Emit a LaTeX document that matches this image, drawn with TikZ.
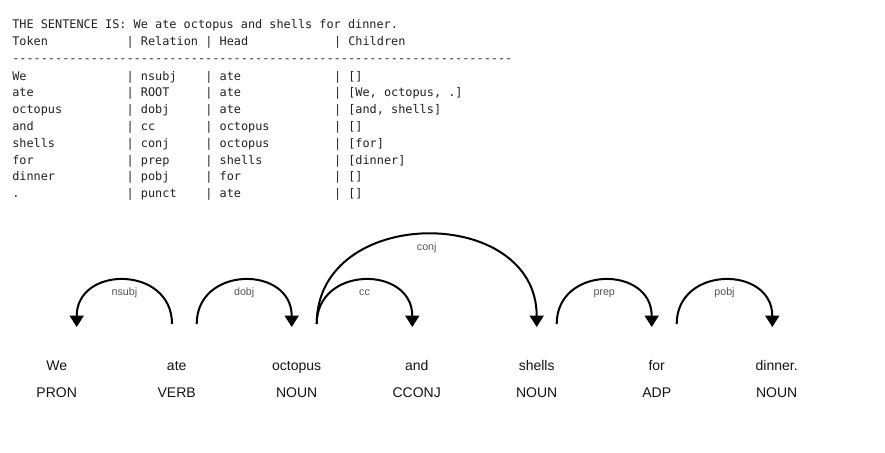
\documentclass[tikz,border=0pt]{standalone}
\usepackage{fontspec}
\setmainfont{Liberation Sans}
\setmonofont{DejaVu Sans Mono}
\usetikzlibrary{arrows.meta}
\definecolor{tabc}{RGB}{34,34,34}
\definecolor{labc}{RGB}{85,85,85}
\definecolor{wordc}{RGB}{20,20,20}
\tikzset{
  tbl/.style={font=\ttfamily\fontsize{8.9pt}{10pt}\selectfont, anchor=base west, inner sep=0pt, text=tabc},
  word/.style={font=\fontsize{10.5pt}{12pt}\selectfont, anchor=base, inner sep=0pt, text=wordc},
  arclab/.style={font=\fontsize{8pt}{9pt}\selectfont, anchor=base, inner sep=0pt, text=labc},
  deparc/.style={line width=1.5pt, -{Triangle[length=8.6pt,width=10.5pt]}}
}
\newcommand\tabrow[6]{%
  \node[tbl] (#1-tok) at (12,#2) {#3};
  \node[tbl] (#1-rel) at (126.4,#2) {| #4};
  \node[tbl] (#1-head) at (205.05,#2) {| #5};
  \node[tbl] (#1-ch) at (333.75,#2) {| #6};
}
\begin{document}
\begin{tikzpicture}[x=0.75pt,y=-0.75pt]
\useasboundingbox[fill=white] (0,0) rectangle (885,453);
% table
\node[tbl] (title) at (12,28.7) {THE SENTENCE IS: We ate octopus and shells for dinner.};
\tabrow{hdr}{46}{Token}{Relation}{Head}{Children}
\node[tbl, text height=3.5pt, text depth=0pt] (rule) at (12,63) {----------------------------------------------------------------------};
\tabrow{r1}{80}{We}{nsubj}{ate}{[]}
\tabrow{r2}{96.8}{ate}{ROOT}{ate}{[We, octopus, .]}
\tabrow{r3}{113.6}{octopus}{dobj}{ate}{[and, shells]}
\tabrow{r4}{130.4}{and}{cc}{octopus}{[]}
\tabrow{r5}{147.2}{shells}{conj}{octopus}{[for]}
\tabrow{r6}{164}{for}{prep}{shells}{[dinner]}
\tabrow{r7}{180.8}{dinner}{pobj}{for}{[]}
\tabrow{r8}{197.6}{.}{punct}{ate}{[]}
% words
\node[word] (w1) at (56.7,370) {We};
\node[word] (w2) at (176.7,370) {ate};
\node[word] (w3) at (296.7,370) {octopus};
\node[word] (w4) at (416.7,370) {and};
\node[word] (w5) at (536.7,370) {shells};
\node[word] (w6) at (656.7,370) {for};
\node[word] (w7) at (776.7,370) {dinner.};
\node[word] (p1) at (56.7,397) {PRON};
\node[word] (p2) at (176.7,397) {VERB};
\node[word] (p3) at (296.7,397) {NOUN};
\node[word] (p4) at (416.7,397) {CCONJ};
\node[word] (p5) at (536.7,397) {NOUN};
\node[word] (p6) at (656.7,397) {ADP};
\node[word] (p7) at (776.7,397) {NOUN};
% arc anchor points
\coordinate (we-in) at (76.7,327);
\coordinate (ate-a) at (172,324);
\coordinate (ate-b) at (196.7,324);
\coordinate (oct-in) at (291.7,327);
\coordinate (oct-out) at (316.7,324);
\coordinate (and-in) at (412.3,327);
\coordinate (sh-in) at (536.7,327);
\coordinate (sh-out) at (556.7,324);
\coordinate (for-in) at (651.7,327);
\coordinate (for-out) at (676.7,324);
\coordinate (din-in) at (772.3,327);
% arcs
\draw[deparc] (ate-a) .. controls +(0,-58.7) and +(0,-61.7) .. (we-in);
\draw[deparc] (ate-b) .. controls +(0,-58.7) and +(0,-61.7) .. (oct-in);
\draw[deparc] (oct-out) .. controls +(0,-58.7) and +(0,-61.7) .. (and-in);
\draw[deparc] (oct-out) .. controls +(0,-119.6) and +(0,-122.6) .. (sh-in);
\draw[deparc] (sh-out) .. controls +(0,-58.7) and +(0,-61.7) .. (for-in);
\draw[deparc] (for-out) .. controls +(0,-58.7) and +(0,-61.7) .. (din-in);
% labels
\node[arclab] (l-nsubj) at (124.4,295.7) {nsubj};
\node[arclab] (l-dobj) at (244.2,295.7) {dobj};
\node[arclab] (l-cc) at (364.5,295.7) {cc};
\node[arclab] (l-conj) at (426.7,250) {conj};
\node[arclab] (l-prep) at (604.2,295.7) {prep};
\node[arclab] (l-pobj) at (724.5,295.7) {pobj};
\end{tikzpicture}
\end{document}
